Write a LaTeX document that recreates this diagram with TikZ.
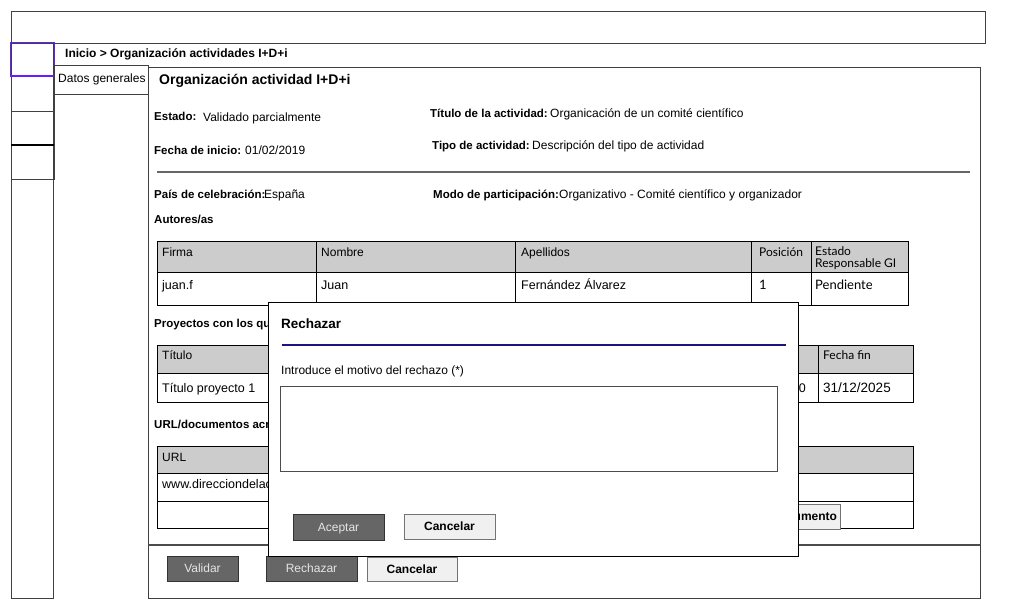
\documentclass[tikz,border=0pt]{standalone}
\usepackage{fontspec}
\setmainfont{Liberation Sans}
\newfontfamily\latofont{Lato}
\definecolor{hdrgray}{HTML}{CCCCCC}
\definecolor{btndark}{HTML}{666666}
\definecolor{btnlight}{HTML}{F0F0F0}
\definecolor{navy}{HTML}{1E1480}
\definecolor{violet}{HTML}{6A1BFF}
\begin{document}
\begin{tikzpicture}[x=1pt,y=-1pt,
  fixed/.style={inner sep=0pt, anchor=west, text height=10.6pt, text depth=2pt},
  txt/.style={fixed, font=\fontsize{12}{14}\selectfont},
  lbl/.style={fixed, font=\fontsize{11.5}{14}\selectfont\bfseries},
  hdrtxt/.style={fixed, font=\fontsize{12}{14}\selectfont},
  celltxt/.style={fixed, font=\fontsize{12.5}{15}\selectfont},
  latotxt/.style={fixed, font=\latofont\fontsize{12}{12}\selectfont},
  latocell/.style={fixed, font=\latofont\fontsize{13}{15}\selectfont},
  frame/.style={draw=black!75, line width=0.9pt},
  cellbox/.style={draw=black, line width=0.9pt},
  hdrbox/.style={draw=black, line width=0.9pt, fill=hdrgray},
  darkbtn/.style={draw=black!80, line width=0.9pt, fill=btndark, text=black!10, inner sep=0pt, text height=10.6pt, text depth=2pt, font=\fontsize{12}{14}\selectfont},
  lightbtn/.style={draw=black!55, line width=0.9pt, fill=btnlight, text=black, inner sep=0pt, text height=10.6pt, text depth=2pt, font=\fontsize{12}{14}\selectfont\bfseries}
]
\useasboundingbox (0,0) rectangle (1018,609);
\fill[white] (0,0) rectangle (1018,609);

% top bar
\draw[frame] (11,11) rectangle (985,43);
% sidebar
\draw[frame] (11,43) rectangle (53,598);
\draw[frame] (11,76) rectangle (54,111);
\draw[frame] (11,111) rectangle (54,145);
\draw[frame] (11,145) rectangle (54,179);
\draw[black, line width=1.4pt] (11,145) -- (54,145);
\draw[violet, line width=1.8pt] (10.5,42.5) rectangle (54.5,76);

% breadcrumb
\node[fixed, font=\fontsize{12}{14}\selectfont\bfseries] (crumb) at (65,53) {Inicio > Organización actividades I+D+i};

% tab
\draw[frame] (54,65) rectangle (148,94);
\node[txt] (tab) at (58,78.5) {Datos generales};

% main panel
\draw[frame] (148,67) rectangle (980,598);
\node[fixed, text height=10.5pt, text depth=3pt, font=\fontsize{14}{16}\selectfont\bfseries] (title) at (159,81) {Organización actividad I+D+i};

\node[lbl] (estadoL) at (154,116) {Estado:};
\node[txt] (estadoV) at (203,117) {Validado parcialmente};
\node[lbl] (fechaL) at (154,150) {Fecha de inicio:};
\node[txt] (fechaV) at (245,150) {01/02/2019};
\node[lbl] (tituloL) at (430,113) {Título de la actividad:};
\node[txt] (tituloV) at (550,113) {Organicación de un comité científico};
\node[lbl] (tipoL) at (432,145) {Tipo de actividad:};
\node[txt] (tipoV) at (532,145) {Descripción del tipo de actividad};

\draw[black!60, line width=1.6pt] (157,172) -- (970,172);

\node[lbl] (paisL) at (154,194) {País de celebración:};
\node[txt] (paisV) at (264,194) {España};
\node[lbl] (modoL) at (433,194) {Modo de participación:};
\node[txt] (modoV) at (559,194) {Organizativo - Comité científico y organizador};
\node[lbl] (autores) at (154,219) {Autores/as};

% table 1
\draw[hdrbox] (157,241) rectangle (316,272);
\draw[hdrbox] (316,241) rectangle (515,272);
\draw[hdrbox] (515,241) rectangle (751,272);
\draw[hdrbox] (751,241) rectangle (811,272);
\draw[hdrbox] (811,241) rectangle (908,272);
\draw[cellbox] (157,272) rectangle (316,305);
\draw[cellbox] (316,272) rectangle (515,305);
\draw[cellbox] (515,272) rectangle (751,305);
\draw[cellbox] (751,272) rectangle (811,305);
\draw[cellbox] (811,272) rectangle (908,305);
\node[hdrtxt] (h1) at (162,252) {Firma};
\node[hdrtxt] (h2) at (321,252) {Nombre};
\node[hdrtxt] (h3) at (521,252) {Apellidos};
\node[latotxt] (h4) at (759,252) {Posición};
\node[latotxt] (h5a) at (815,251.5) {Estado};
\node[latotxt] (h5b) at (815,263.5) {Responsable GI};
\node[celltxt] (c1) at (162,285) {juan.f};
\node[celltxt] (c2) at (321,285) {Juan};
\node[celltxt] (c3) at (521,285) {Fernández Álvarez};
\node[latocell] (c4) at (759,285) {1};
\node[latocell] (c5) at (815,285) {Pendiente};

% projects
\node[lbl] (proy) at (154,323) {Proyectos con los que};
\draw[hdrbox] (157,345) rectangle (818,373);
\draw[hdrbox] (818,345) rectangle (913,373);
\draw[cellbox] (157,373) rectangle (818,402);
\draw[cellbox] (818,373) rectangle (913,402);
\node[hdrtxt] (p1) at (162,355) {Título};
\node[latotxt] (p2) at (823,355) {Fecha fin};
\node[celltxt] (p3) at (162,388) {Título proyecto 1};
\node[celltxt, anchor=east] (p4) at (806,388) {01/01/2020};
\node[celltxt, font=\fontsize{13.5}{15}\selectfont] (p5) at (823,388) {31/12/2025};

% URL docs
\node[lbl] (urlL) at (154,424) {URL/documentos acreditativos};
\draw[hdrbox] (157,446) rectangle (913,473);
\draw[cellbox] (157,473) rectangle (913,501);
\draw[cellbox] (157,501) rectangle (913,528);
\node[hdrtxt] (u1) at (162,457) {URL};
\node[celltxt] (u2) at (162,484) {www.direcciondelactividad.com};
\node[lightbtn, minimum width=127, minimum height=25, text width=121, align=right] (addDoc) at (776.5,516.5) {Añadir documento};

% footer
\draw[black!70, line width=1.2pt] (148,545) -- (980,545);
\node[darkbtn, minimum width=71, minimum height=25] (validar) at (202.5,568.5) {Validar};
\node[darkbtn, minimum width=91, minimum height=25] (rechazar) at (311.5,568.5) {Rechazar};
\node[lightbtn, minimum width=90, minimum height=24] (cancelar) at (412,569) {Cancelar};

% modal
\draw[draw=black, line width=0.9pt, fill=white] (268,302) rectangle (798,556);
\node[fixed, text height=12pt, text depth=2pt, font=\fontsize{13.5}{16}\selectfont\bfseries] (mtitle) at (281,323.5) {Rechazar};
\draw[navy, line width=1.6pt] (282,345) -- (786,345);
\node[txt] (mintro) at (281,370) {Introduce el motivo del rechazo (*)};
\draw[draw=black!70, line width=1pt] (280,387) rectangle (777,472);
\node[darkbtn, minimum width=91, minimum height=26] (aceptar) at (338.5,527) {Aceptar};
\node[lightbtn, minimum width=91, minimum height=25] (mcancel) at (449.5,526.5) {Cancelar};
\end{tikzpicture}
\end{document}
